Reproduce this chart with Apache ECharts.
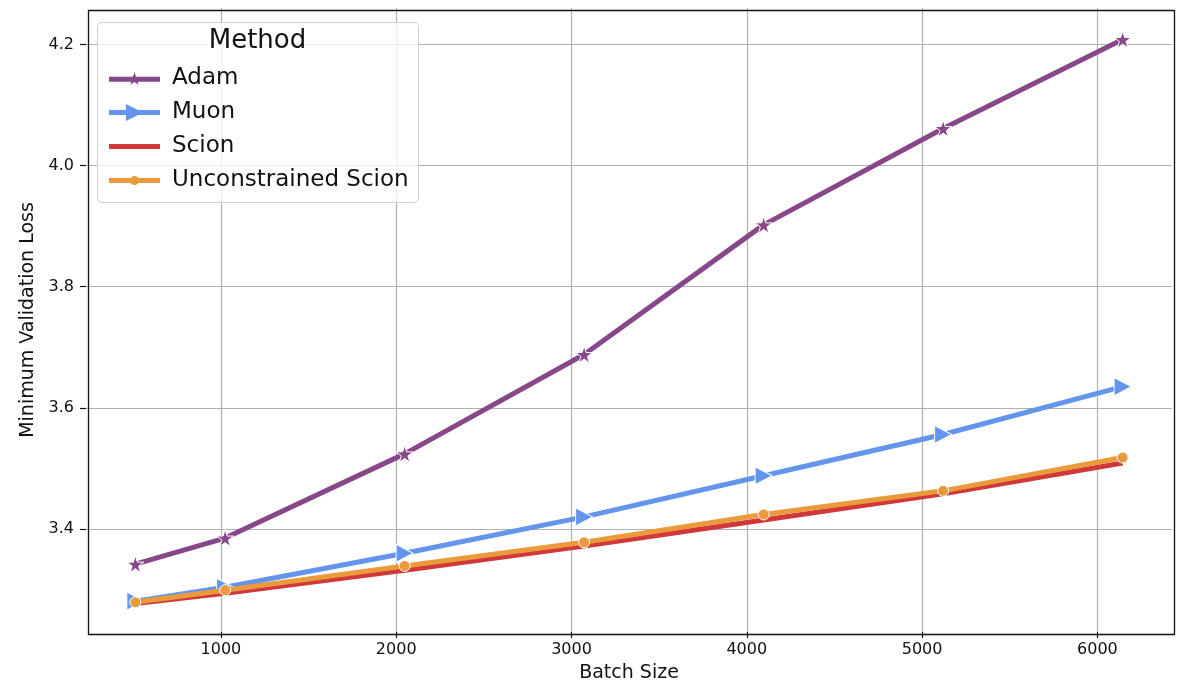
<!DOCTYPE html>
<html><head><meta charset="utf-8">
<script src="https://cdn.jsdelivr.net/npm/echarts@6/dist/echarts.min.js"></script>
<style>html,body{margin:0;padding:0;background:#fff}#c{width:1200px;height:698px}</style>
</head><body><div id="c"></div>
<script>
const batchSizes = [512, 1024, 2048, 3072, 4096, 5120, 6144];
const adam = [3.342, 3.385, 3.524, 3.688, 3.902, 4.061, 4.208];
const muon = [3.281, 3.304, 3.360, 3.420, 3.488, 3.556, 3.635];
const scion = [3.277, 3.294, 3.332, 3.372, 3.415, 3.458, 3.509];
const unconstrained = [3.279, 3.299, 3.339, 3.378, 3.424, 3.463, 3.518];
const xTicks = [1000, 2000, 3000, 4000, 5000, 6000];
const yTicks = [3.4, 3.6, 3.8, 4.0, 4.2];
const names = ['Adam', 'Muon', 'Scion', 'Unconstrained Scion'];

const STAR = 'path://M50,0 L61.2,34.5 L97.6,34.5 L68.2,55.9 L79.4,90.5 L50,69.1 L20.6,90.5 L31.8,55.9 L2.4,34.5 L38.8,34.5 Z';
const BAR = 'M0,7.5 L51,7.5 L51,12.5 L0,12.5 Z';
const legendIcons = {
  'Adam': 'path://' + BAR + ' M25.5,3 L27.15,7.73 L32.16,7.84 L28.16,10.87 L29.61,15.66 L25.5,12.8 L21.39,15.66 L22.84,10.87 L18.84,7.84 L23.85,7.73 Z',
  'Muon': 'path://' + BAR + ' M17,1.5 L34,10 L17,18.5 Z',
  'Scion': 'path://' + BAR,
  'Unconstrained Scion': 'path://' + BAR + ' M21,10 A4.5,4.5 0 1 1 30,10 A4.5,4.5 0 1 1 21,10 Z'
};
const pair = arr => batchSizes.map((x, i) => [x, arr[i]]);
const font = 'DejaVu Sans';

const chart = echarts.init(document.getElementById('c'));
chart.setOption({
  animation: false,
  textStyle: {fontFamily: font},
  grid: {left: 86, right: 28, top: 8, bottom: 66, containLabel: false, show: false},
  xAxis: {
    type: 'value', min: 230.4, max: 6425.6,
    name: 'Batch Size', nameLocation: 'middle', nameGap: 32,
    nameTextStyle: {fontSize: 19, color: '#111', fontFamily: font},
    axisLine: {show: false},
    axisTick: {show: true, length: 6, customValues: xTicks, lineStyle: {color: '#111', width: 1.2}},
    axisLabel: {customValues: xTicks, fontSize: 16, color: '#111', margin: 10, fontFamily: font,
      formatter: v => String(v)},
    splitLine: {show: true, lineStyle: {color: '#b0b0b0', width: 1.2}}
  },
  yAxis: {
    type: 'value', min: 3.230, max: 4.260,
    name: 'Minimum Validation Loss', nameLocation: 'middle', nameGap: 44,
    nameTextStyle: {fontSize: 19, color: '#111', fontFamily: font},
    axisLine: {show: false},
    axisTick: {show: true, length: 6, customValues: yTicks, lineStyle: {color: '#111', width: 1.2}},
    axisLabel: {customValues: yTicks, fontSize: 16, color: '#111', margin: 12, fontFamily: font,
      formatter: v => v.toFixed(1)},
    splitLine: {show: true, lineStyle: {color: '#b0b0b0', width: 1.2}}
  },
  graphic: [
    {type: 'rect', left: 86, top: 8, shape: {width: 1086, height: 624}, style: {fill: 'none', stroke: '#111', lineWidth: 1.3}, z: 10, silent: true},
    {type: 'rect', left: 97, top: 22, shape: {width: 321, height: 180, r: 4}, style: {fill: 'rgba(255,255,255,0.8)', stroke: '#d0d0d0', lineWidth: 1}, z: 20},
    {type: 'text', x: 257.5, y: 28, style: {text: 'Method', font: '26px "DejaVu Sans"', fill: '#111', align: 'center', verticalAlign: 'top'}, z: 21}
  ],
  legend: {
    data: names.map(n => ({name: n, icon: legendIcons[n]})),
    orient: 'vertical', left: 104, top: 62, itemGap: 11,
    itemWidth: 51, itemHeight: 20, z: 22, symbolKeepAspect: true,
    itemStyle: {borderWidth: 0},
    textStyle: {fontSize: 23, color: '#111', fontFamily: font, padding: [0, 0, 0, 7]}
  },
  series: [
    {name: 'Adam', type: 'line', data: pair(adam), color: '#87478A', symbol: STAR, symbolSize: 17,
      lineStyle: {width: 5}, itemStyle: {borderColor: '#fff', borderWidth: 1}, z: 2},
    {name: 'Muon', type: 'line', data: pair(muon), color: '#6495ED', symbol: 'triangle', symbolRotate: -90, symbolSize: [18, 17],
      lineStyle: {width: 5}, itemStyle: {borderColor: '#fff', borderWidth: 1}, z: 3},
    {name: 'Scion', type: 'line', data: pair(scion), color: '#D1383A', symbol: 'none', showSymbol: false,
      lineStyle: {width: 5}, z: 4},
    {name: 'Unconstrained Scion', type: 'line', data: pair(unconstrained), color: '#EA9A3A', symbol: 'circle', symbolSize: 11,
      lineStyle: {width: 5}, itemStyle: {borderColor: '#fff', borderWidth: 1}, z: 5}
  ]
});
</script></body></html>
